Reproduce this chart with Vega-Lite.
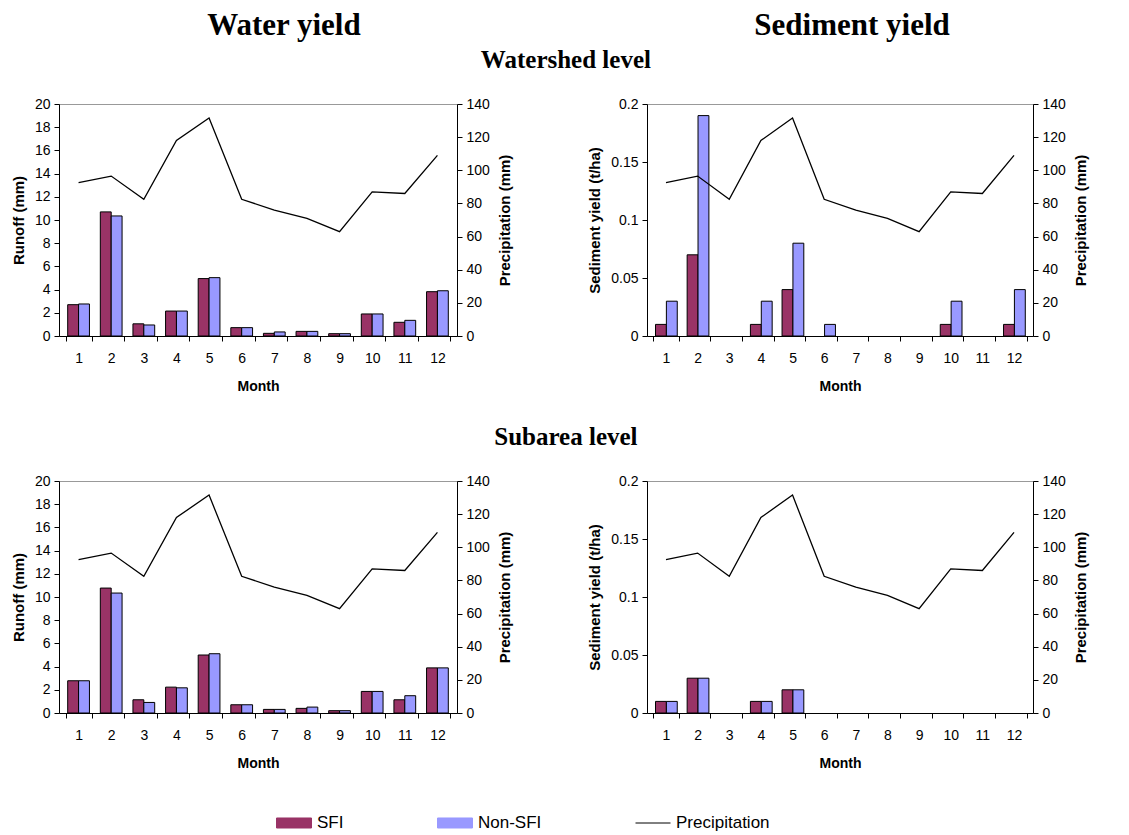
{
  "$schema": "https://vega.github.io/schema/vega-lite/v6.json",
  "background": "white",
  "padding": {"left": 10, "top": 9, "right": 5, "bottom": 5},
  "datasets": {
    "bars": [
      {"level": "Watershed", "var": "Runoff", "month": 1, "series": "SFI", "value": 2.7},
      {"level": "Watershed", "var": "Runoff", "month": 2, "series": "SFI", "value": 10.7},
      {"level": "Watershed", "var": "Runoff", "month": 3, "series": "SFI", "value": 1.05},
      {"level": "Watershed", "var": "Runoff", "month": 4, "series": "SFI", "value": 2.15},
      {"level": "Watershed", "var": "Runoff", "month": 5, "series": "SFI", "value": 4.95},
      {"level": "Watershed", "var": "Runoff", "month": 6, "series": "SFI", "value": 0.72},
      {"level": "Watershed", "var": "Runoff", "month": 7, "series": "SFI", "value": 0.23},
      {"level": "Watershed", "var": "Runoff", "month": 8, "series": "SFI", "value": 0.4},
      {"level": "Watershed", "var": "Runoff", "month": 9, "series": "SFI", "value": 0.2},
      {"level": "Watershed", "var": "Runoff", "month": 10, "series": "SFI", "value": 1.9},
      {"level": "Watershed", "var": "Runoff", "month": 11, "series": "SFI", "value": 1.18},
      {"level": "Watershed", "var": "Runoff", "month": 12, "series": "SFI", "value": 3.82},
      {"level": "Watershed", "var": "Runoff", "month": 1, "series": "Non-SFI", "value": 2.76},
      {"level": "Watershed", "var": "Runoff", "month": 2, "series": "Non-SFI", "value": 10.35},
      {"level": "Watershed", "var": "Runoff", "month": 3, "series": "Non-SFI", "value": 0.95},
      {"level": "Watershed", "var": "Runoff", "month": 4, "series": "Non-SFI", "value": 2.15},
      {"level": "Watershed", "var": "Runoff", "month": 5, "series": "Non-SFI", "value": 5.03},
      {"level": "Watershed", "var": "Runoff", "month": 6, "series": "Non-SFI", "value": 0.72},
      {"level": "Watershed", "var": "Runoff", "month": 7, "series": "Non-SFI", "value": 0.35},
      {"level": "Watershed", "var": "Runoff", "month": 8, "series": "Non-SFI", "value": 0.4},
      {"level": "Watershed", "var": "Runoff", "month": 9, "series": "Non-SFI", "value": 0.2},
      {"level": "Watershed", "var": "Runoff", "month": 10, "series": "Non-SFI", "value": 1.9},
      {"level": "Watershed", "var": "Runoff", "month": 11, "series": "Non-SFI", "value": 1.35},
      {"level": "Watershed", "var": "Runoff", "month": 12, "series": "Non-SFI", "value": 3.9},
      {"level": "Subarea", "var": "Runoff", "month": 1, "series": "SFI", "value": 2.78},
      {"level": "Subarea", "var": "Runoff", "month": 2, "series": "SFI", "value": 10.77},
      {"level": "Subarea", "var": "Runoff", "month": 3, "series": "SFI", "value": 1.14},
      {"level": "Subarea", "var": "Runoff", "month": 4, "series": "SFI", "value": 2.23},
      {"level": "Subarea", "var": "Runoff", "month": 5, "series": "SFI", "value": 5.0},
      {"level": "Subarea", "var": "Runoff", "month": 6, "series": "SFI", "value": 0.71},
      {"level": "Subarea", "var": "Runoff", "month": 7, "series": "SFI", "value": 0.31},
      {"level": "Subarea", "var": "Runoff", "month": 8, "series": "SFI", "value": 0.4},
      {"level": "Subarea", "var": "Runoff", "month": 9, "series": "SFI", "value": 0.2},
      {"level": "Subarea", "var": "Runoff", "month": 10, "series": "SFI", "value": 1.86},
      {"level": "Subarea", "var": "Runoff", "month": 11, "series": "SFI", "value": 1.14},
      {"level": "Subarea", "var": "Runoff", "month": 12, "series": "SFI", "value": 3.89},
      {"level": "Subarea", "var": "Runoff", "month": 1, "series": "Non-SFI", "value": 2.78},
      {"level": "Subarea", "var": "Runoff", "month": 2, "series": "Non-SFI", "value": 10.34},
      {"level": "Subarea", "var": "Runoff", "month": 3, "series": "Non-SFI", "value": 0.91},
      {"level": "Subarea", "var": "Runoff", "month": 4, "series": "Non-SFI", "value": 2.17},
      {"level": "Subarea", "var": "Runoff", "month": 5, "series": "Non-SFI", "value": 5.11},
      {"level": "Subarea", "var": "Runoff", "month": 6, "series": "Non-SFI", "value": 0.71},
      {"level": "Subarea", "var": "Runoff", "month": 7, "series": "Non-SFI", "value": 0.31},
      {"level": "Subarea", "var": "Runoff", "month": 8, "series": "Non-SFI", "value": 0.51},
      {"level": "Subarea", "var": "Runoff", "month": 9, "series": "Non-SFI", "value": 0.2},
      {"level": "Subarea", "var": "Runoff", "month": 10, "series": "Non-SFI", "value": 1.86},
      {"level": "Subarea", "var": "Runoff", "month": 11, "series": "Non-SFI", "value": 1.49},
      {"level": "Subarea", "var": "Runoff", "month": 12, "series": "Non-SFI", "value": 3.89},
      {"level": "Watershed", "var": "Sediment", "month": 1, "series": "SFI", "value": 0.01},
      {"level": "Watershed", "var": "Sediment", "month": 2, "series": "SFI", "value": 0.07},
      {"level": "Watershed", "var": "Sediment", "month": 3, "series": "SFI", "value": 0},
      {"level": "Watershed", "var": "Sediment", "month": 4, "series": "SFI", "value": 0.01},
      {"level": "Watershed", "var": "Sediment", "month": 5, "series": "SFI", "value": 0.04},
      {"level": "Watershed", "var": "Sediment", "month": 6, "series": "SFI", "value": 0},
      {"level": "Watershed", "var": "Sediment", "month": 7, "series": "SFI", "value": 0},
      {"level": "Watershed", "var": "Sediment", "month": 8, "series": "SFI", "value": 0},
      {"level": "Watershed", "var": "Sediment", "month": 9, "series": "SFI", "value": 0},
      {"level": "Watershed", "var": "Sediment", "month": 10, "series": "SFI", "value": 0.01},
      {"level": "Watershed", "var": "Sediment", "month": 11, "series": "SFI", "value": 0},
      {"level": "Watershed", "var": "Sediment", "month": 12, "series": "SFI", "value": 0.01},
      {"level": "Watershed", "var": "Sediment", "month": 1, "series": "Non-SFI", "value": 0.03},
      {"level": "Watershed", "var": "Sediment", "month": 2, "series": "Non-SFI", "value": 0.19},
      {"level": "Watershed", "var": "Sediment", "month": 3, "series": "Non-SFI", "value": 0},
      {"level": "Watershed", "var": "Sediment", "month": 4, "series": "Non-SFI", "value": 0.03},
      {"level": "Watershed", "var": "Sediment", "month": 5, "series": "Non-SFI", "value": 0.08},
      {"level": "Watershed", "var": "Sediment", "month": 6, "series": "Non-SFI", "value": 0.01},
      {"level": "Watershed", "var": "Sediment", "month": 7, "series": "Non-SFI", "value": 0},
      {"level": "Watershed", "var": "Sediment", "month": 8, "series": "Non-SFI", "value": 0},
      {"level": "Watershed", "var": "Sediment", "month": 9, "series": "Non-SFI", "value": 0},
      {"level": "Watershed", "var": "Sediment", "month": 10, "series": "Non-SFI", "value": 0.03},
      {"level": "Watershed", "var": "Sediment", "month": 11, "series": "Non-SFI", "value": 0},
      {"level": "Watershed", "var": "Sediment", "month": 12, "series": "Non-SFI", "value": 0.04},
      {"level": "Subarea", "var": "Sediment", "month": 1, "series": "SFI", "value": 0.01},
      {"level": "Subarea", "var": "Sediment", "month": 2, "series": "SFI", "value": 0.03},
      {"level": "Subarea", "var": "Sediment", "month": 3, "series": "SFI", "value": 0},
      {"level": "Subarea", "var": "Sediment", "month": 4, "series": "SFI", "value": 0.01},
      {"level": "Subarea", "var": "Sediment", "month": 5, "series": "SFI", "value": 0.02},
      {"level": "Subarea", "var": "Sediment", "month": 6, "series": "SFI", "value": 0},
      {"level": "Subarea", "var": "Sediment", "month": 7, "series": "SFI", "value": 0},
      {"level": "Subarea", "var": "Sediment", "month": 8, "series": "SFI", "value": 0},
      {"level": "Subarea", "var": "Sediment", "month": 9, "series": "SFI", "value": 0},
      {"level": "Subarea", "var": "Sediment", "month": 10, "series": "SFI", "value": 0},
      {"level": "Subarea", "var": "Sediment", "month": 11, "series": "SFI", "value": 0},
      {"level": "Subarea", "var": "Sediment", "month": 12, "series": "SFI", "value": 0},
      {"level": "Subarea", "var": "Sediment", "month": 1, "series": "Non-SFI", "value": 0.01},
      {"level": "Subarea", "var": "Sediment", "month": 2, "series": "Non-SFI", "value": 0.03},
      {"level": "Subarea", "var": "Sediment", "month": 3, "series": "Non-SFI", "value": 0},
      {"level": "Subarea", "var": "Sediment", "month": 4, "series": "Non-SFI", "value": 0.01},
      {"level": "Subarea", "var": "Sediment", "month": 5, "series": "Non-SFI", "value": 0.02},
      {"level": "Subarea", "var": "Sediment", "month": 6, "series": "Non-SFI", "value": 0},
      {"level": "Subarea", "var": "Sediment", "month": 7, "series": "Non-SFI", "value": 0},
      {"level": "Subarea", "var": "Sediment", "month": 8, "series": "Non-SFI", "value": 0},
      {"level": "Subarea", "var": "Sediment", "month": 9, "series": "Non-SFI", "value": 0},
      {"level": "Subarea", "var": "Sediment", "month": 10, "series": "Non-SFI", "value": 0},
      {"level": "Subarea", "var": "Sediment", "month": 11, "series": "Non-SFI", "value": 0},
      {"level": "Subarea", "var": "Sediment", "month": 12, "series": "Non-SFI", "value": 0}
    ],
    "precip": [
      {"month": 1, "precip": 92.5},
      {"month": 2, "precip": 96.5},
      {"month": 3, "precip": 82.5},
      {"month": 4, "precip": 118},
      {"month": 5, "precip": 131.5},
      {"month": 6, "precip": 82.5},
      {"month": 7, "precip": 76},
      {"month": 8, "precip": 71},
      {"month": 9, "precip": 63},
      {"month": 10, "precip": 87},
      {"month": 11, "precip": 86},
      {"month": 12, "precip": 109}
    ]
  },
  "vconcat": [
    {
      "title": {"text": "Watershed level", "fontSize": 25, "offset": -63, "dx": 16},
      "spacing": 74,
      "hconcat": [
        {
          "title": {"text": "Water yield", "fontSize": 31, "offset": 55, "dx": 22},
          "width": 398, "height": 232,
          "layer": [
            {
              "data": {"name": "bars"},
              "transform": [{"filter": "datum.level === 'Watershed' && datum.var === 'Runoff' && datum.value > 0"}],
              "mark": {"type": "bar", "stroke": "black", "strokeWidth": 1},
              "encoding": {
                "x": {"field": "month", "type": "ordinal", "title": "Month", "scale": {"domain": [1, 2, 3, 4, 5, 6, 7, 8, 9, 10, 11, 12]}},
                "xOffset": {"field": "series", "scale": {"domain": ["SFI", "Non-SFI"], "paddingInner": 0, "paddingOuter": 0.2}},
                "y": {"field": "value", "type": "quantitative", "title": "Runoff (mm)", "scale": {"domain": [0, 20]}, "axis": {"values": [0, 2, 4, 6, 8, 10, 12, 14, 16, 18, 20]}},
                "color": {
                  "field": "series", "type": "nominal",
                  "scale": {"domain": ["SFI", "Non-SFI", "Precipitation"], "range": ["#993366", "#9999FF", "black"]},
                  "legend": {
                    "orient": "none", "legendX": 217, "legendY": 701, "direction": "horizontal", "title": null,
                    "encode": {"symbols": {"update": {
                      "shape": {"signal": "datum.value === 'Precipitation' ? 'M-1,0H1' : 'M-1,-0.286H1V0.286H-1Z'"},
                      "stroke": {"value": "black"},
                      "strokeWidth": {"value": 1}
                    }}}
                  }
                }
              }
            },
            {
              "data": {"name": "precip"},
              "mark": {"type": "line", "strokeWidth": 1.3},
              "encoding": {
                "x": {"field": "month", "type": "ordinal"},
                "y": {"field": "precip", "type": "quantitative", "title": "Precipitation (mm)", "scale": {"domain": [0, 140]}, "axis": {"orient": "right", "values": [0, 20, 40, 60, 80, 100, 120, 140], "titleAngle": 270, "titleBaseline": "top"}},
                "color": {"datum": "Precipitation", "type": "nominal"}
              }
            }
          ],
          "resolve": {"scale": {"y": "independent"}}
        },
        {
          "title": {"text": "Sediment yield", "fontSize": 31, "offset": 55, "dx": 14},
          "width": 386, "height": 232,
          "layer": [
            {
              "data": {"name": "bars"},
              "transform": [{"filter": "datum.level === 'Watershed' && datum.var === 'Sediment' && datum.value > 0"}],
              "mark": {"type": "bar", "stroke": "black", "strokeWidth": 1},
              "encoding": {
                "x": {"field": "month", "type": "ordinal", "title": "Month", "scale": {"domain": [1, 2, 3, 4, 5, 6, 7, 8, 9, 10, 11, 12]}},
                "xOffset": {"field": "series", "scale": {"domain": ["SFI", "Non-SFI"], "paddingInner": 0, "paddingOuter": 0.2}},
                "y": {"field": "value", "type": "quantitative", "title": "Sediment yield (t/ha)", "scale": {"domain": [0, 0.2]}, "axis": {"values": [0, 0.05, 0.1, 0.15, 0.2], "labelExpr": "'' + datum.value"}},
                "color": {"field": "series", "type": "nominal"}
              }
            },
            {
              "data": {"name": "precip"},
              "mark": {"type": "line", "strokeWidth": 1.3},
              "encoding": {
                "x": {"field": "month", "type": "ordinal"},
                "y": {"field": "precip", "type": "quantitative", "title": "Precipitation (mm)", "scale": {"domain": [0, 140]}, "axis": {"orient": "right", "values": [0, 20, 40, 60, 80, 100, 120, 140], "titleAngle": 270, "titleBaseline": "top"}},
                "color": {"datum": "Precipitation", "type": "nominal"}
              }
            }
          ],
          "resolve": {"scale": {"y": "independent"}}
        }
      ]
    },
    {
      "title": {"text": "Subarea level", "fontSize": 25, "offset": 24, "dx": 16},
      "spacing": 74,
      "hconcat": [
        {
          "width": 398, "height": 232,
          "layer": [
            {
              "data": {"name": "bars"},
              "transform": [{"filter": "datum.level === 'Subarea' && datum.var === 'Runoff' && datum.value > 0"}],
              "mark": {"type": "bar", "stroke": "black", "strokeWidth": 1},
              "encoding": {
                "x": {"field": "month", "type": "ordinal", "title": "Month", "scale": {"domain": [1, 2, 3, 4, 5, 6, 7, 8, 9, 10, 11, 12]}},
                "xOffset": {"field": "series", "scale": {"domain": ["SFI", "Non-SFI"], "paddingInner": 0, "paddingOuter": 0.2}},
                "y": {"field": "value", "type": "quantitative", "title": "Runoff (mm)", "scale": {"domain": [0, 20]}, "axis": {"values": [0, 2, 4, 6, 8, 10, 12, 14, 16, 18, 20]}},
                "color": {"field": "series", "type": "nominal"}
              }
            },
            {
              "data": {"name": "precip"},
              "mark": {"type": "line", "strokeWidth": 1.3},
              "encoding": {
                "x": {"field": "month", "type": "ordinal"},
                "y": {"field": "precip", "type": "quantitative", "title": "Precipitation (mm)", "scale": {"domain": [0, 140]}, "axis": {"orient": "right", "values": [0, 20, 40, 60, 80, 100, 120, 140], "titleAngle": 270, "titleBaseline": "top"}},
                "color": {"datum": "Precipitation", "type": "nominal"}
              }
            }
          ],
          "resolve": {"scale": {"y": "independent"}}
        },
        {
          "width": 386, "height": 232,
          "layer": [
            {
              "data": {"name": "bars"},
              "transform": [{"filter": "datum.level === 'Subarea' && datum.var === 'Sediment' && datum.value > 0"}],
              "mark": {"type": "bar", "stroke": "black", "strokeWidth": 1},
              "encoding": {
                "x": {"field": "month", "type": "ordinal", "title": "Month", "scale": {"domain": [1, 2, 3, 4, 5, 6, 7, 8, 9, 10, 11, 12]}},
                "xOffset": {"field": "series", "scale": {"domain": ["SFI", "Non-SFI"], "paddingInner": 0, "paddingOuter": 0.2}},
                "y": {"field": "value", "type": "quantitative", "title": "Sediment yield (t/ha)", "scale": {"domain": [0, 0.2]}, "axis": {"values": [0, 0.05, 0.1, 0.15, 0.2], "labelExpr": "'' + datum.value"}},
                "color": {"field": "series", "type": "nominal"}
              }
            },
            {
              "data": {"name": "precip"},
              "mark": {"type": "line", "strokeWidth": 1.3},
              "encoding": {
                "x": {"field": "month", "type": "ordinal"},
                "y": {"field": "precip", "type": "quantitative", "title": "Precipitation (mm)", "scale": {"domain": [0, 140]}, "axis": {"orient": "right", "values": [0, 20, 40, 60, 80, 100, 120, 140], "titleAngle": 270, "titleBaseline": "top"}},
                "color": {"datum": "Precipitation", "type": "nominal"}
              }
            }
          ],
          "resolve": {"scale": {"y": "independent"}}
        }
      ]
    }
  ],
  "spacing": 30,
  "resolve": {"scale": {"color": "shared"}},
  "config": {
    "view": {"stroke": "#999999", "strokeWidth": 1},
    "font": "Liberation Sans",
    "scale": {"bandPaddingInner": 0, "bandPaddingOuter": 0},
    "title": {"font": "Liberation Serif", "fontWeight": "bold", "color": "black", "anchor": "middle", "frame": "bounds"},
    "axis": {
      "grid": false,
      "labelFont": "Liberation Sans", "labelFontSize": 14, "labelColor": "black",
      "titleFont": "Liberation Sans", "titleFontSize": 15, "titleFontWeight": "bold", "titleColor": "black",
      "domainColor": "black", "tickColor": "black", "tickSize": 5, "labelPadding": 4, "titlePadding": 8
    },
    "axisX": {"labelAngle": 0, "tickBand": "extent", "labelPadding": 10, "titlePadding": 14, "titleFontSize": 14},
    "legend": {
      "labelFont": "Liberation Sans", "labelFontSize": 17, "labelColor": "black",
      "columnPadding": 91, "labelOffset": 5,
      "symbolType": "M-1,-0.286H1V0.286H-1Z", "symbolSize": 1225,
      "symbolStrokeColor": "black", "symbolStrokeWidth": 1
    }
  },
  "encoding": {}
}
